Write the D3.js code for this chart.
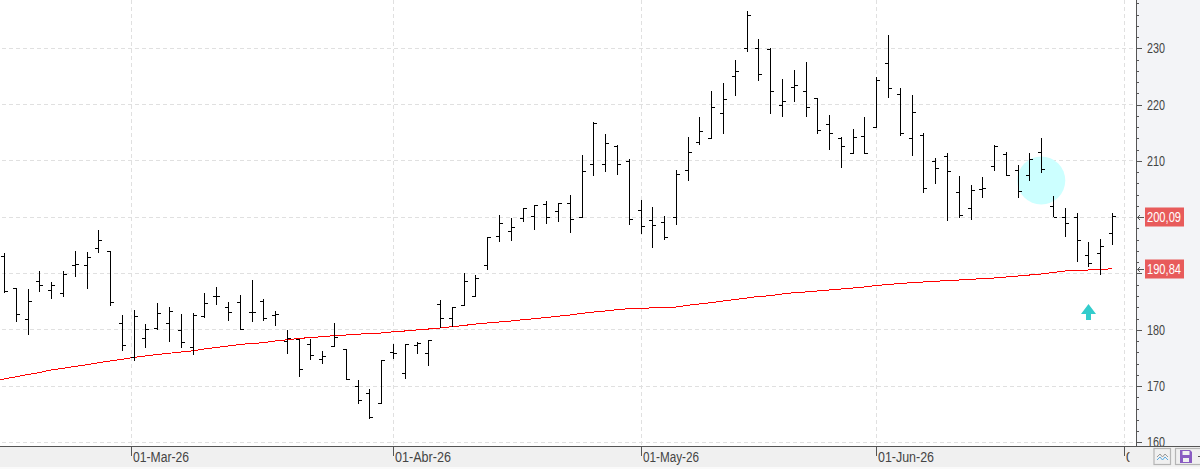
<!DOCTYPE html>
<html>
<head>
<meta charset="utf-8">
<script src="https://cdn.jsdelivr.net/npm/d3@7/dist/d3.min.js"></script>
<style>
  html, body { margin: 0; padding: 0; background: #fff; overflow: hidden; }
  svg { display: block; }
  text { font-family: "Liberation Sans", Roboto, sans-serif; font-size: 14px; }
</style>
</head>
<body>
<svg id="chart" width="1200" height="469"></svg>
<script>
// Daily OHLC prices, one entry per session
const opens = [193.05,187.37,181.86,188.61,187.01,186.48,191.45,191.45,194.47,193.99,181.15,175.10,178.48,180.26,181.15,179.90,176.88,182.27,185.94,183.99,184.88,183.03,185.06,182.62,177.95,178.30,177.41,174.75,176.99,176.45,169.95,168.71,166.93,175.99,172.26,177.24,175.74,184.52,182.03,184.35,185.87,191.45,196.61,197.50,199.81,200.16,202.29,201.05,202.47,199.91,209.40,209.40,212.65,209.94,201.23,199.45,199.09,199.98,208.34,213.31,214.02,218.47,225.04,230.02,230.02,229.89,219.89,223.09,222.38,221.01,216.51,214.02,211.36,214.38,215.91,227.35,221.84,214.02,214.56,209.94,210.82,204.43,201.58,204.96,209.05,211.18,208.34,207.45,211.53,201.94,199.98,199.98,193.23,193.59,197.14];
const highs = [193.59,187.37,187.19,190.44,188.43,190.44,193.99,193.76,197.73,194.05,182.62,183.51,181.02,184.75,184.04,182.80,182.92,186.53,187.54,184.88,186.12,188.84,185.41,183.28,179.90,178.36,178.30,176.22,181.20,176.53,171.02,169.42,174.57,177.41,177.41,177.77,178.18,185.23,183.99,190.03,189.68,196.43,200.34,199.81,201.69,202.12,202.83,202.47,203.89,211.00,216.87,214.73,212.78,210.29,203.00,201.76,200.16,208.34,214.20,217.75,222.43,223.80,227.88,236.59,231.62,230.02,224.51,226.11,227.53,221.13,218.11,214.20,215.62,217.75,224.86,232.33,222.91,221.66,214.91,210.47,211.36,207.27,205.67,207.09,212.78,211.53,209.22,211.36,214.02,203.72,201.58,200.69,195.54,196.07,200.69];
const lows = [186.48,181.43,179.07,186.76,185.46,185.82,189.37,187.24,193.64,184.22,176.22,174.45,176.76,179.90,177.82,176.76,175.51,182.03,184.45,181.55,179.96,181.38,181.61,180.67,175.69,171.60,174.62,173.91,176.88,171.12,166.81,164.14,166.86,174.75,171.25,175.74,173.61,180.26,180.54,184.35,185.77,190.67,195.65,195.83,199.20,197.78,198.85,199.20,197.25,199.81,207.38,208.09,207.55,198.67,197.07,194.58,196.00,198.67,206.49,212.92,214.02,214.79,221.59,229.41,224.26,218.39,217.86,220.53,217.86,214.84,212.00,208.80,211.29,211.29,215.80,221.24,214.48,210.93,204.35,205.95,199.38,199.91,199.56,203.47,208.26,207.27,203.47,206.49,207.80,199.98,196.54,192.09,191.21,189.78,195.11];
const closes = [186.83,182.75,185.06,187.90,187.90,189.85,191.63,192.88,195.90,184.88,177.24,182.39,180.08,182.92,183.28,177.77,182.57,184.70,185.94,183.10,180.08,183.03,181.96,182.75,178.41,172.97,175.46,175.28,178.66,171.19,167.46,164.44,174.50,175.82,177.34,177.59,178.12,182.03,183.87,188.61,189.14,196.43,198.92,198.21,201.58,202.12,199.98,202.47,199.63,208.16,216.69,213.13,209.40,199.63,198.38,198.56,196.43,207.62,211.53,215.27,219.53,220.95,225.93,235.88,225.40,222.38,220.60,223.44,219.53,215.44,214.91,212.60,214.20,211.36,224.33,222.91,214.91,218.64,205.14,208.69,208.16,200.27,204.78,205.14,212.60,207.45,204.60,210.29,208.51,199.98,198.92,195.90,191.81,194.83,200.09];

// Long moving average, starting one session before the first bar
const movingAverage = [170.89,171.25,171.64,172.03,172.40,172.85,173.15,173.47,173.77,174.13,174.45,174.75,175.07,175.34,175.60,175.82,176.05,176.26,176.58,176.85,177.11,177.38,177.56,177.70,178.00,178.21,178.45,178.62,178.77,178.96,179.07,179.21,179.32,179.42,179.64,179.78,179.96,180.13,180.31,180.54,180.76,181.02,181.20,181.38,181.55,181.79,181.96,182.18,182.41,182.62,182.90,183.15,183.33,183.56,183.74,183.74,183.92,183.99,184.04,184.35,184.58,184.81,185.11,185.38,185.64,185.91,186.05,186.35,186.58,186.71,186.89,187.06,187.24,187.42,187.60,187.86,188.04,188.22,188.36,188.49,188.61,188.75,188.84,188.93,189.11,189.20,189.37,189.55,189.73,189.91,190.17,190.44,190.53,190.62,190.71,190.84];

// Month boundaries on the session index, with their axis labels
const monthPositions = [10.75, 33, 54, 74, 95];
const monthLabels = ["01-Mar-26", "01-Abr-26", "01-May-26", "01-Jun-26", "01-Jul-26"];

const gridPrices = [160, 170, 180, 190, 200, 210, 220, 230];
// The flags cover the round prices nearest to them, so those go unlabelled
const labelledPrices = [160, 170, 180, 210, 220, 230];
const minorPriceTicks = d3.range(160, 240, 2).filter(v => v % 10 !== 0);

// Last-value flags on the price axis
const flagValues = [closes[closes.length - 1], movingAverage[movingAverage.length - 1]];

// Chart annotations: highlight circle and up arrow, as [session, price]
const highlight = [88, 206.52];
const upArrow = [92, 184.58];

const width = 1200, height = 469, plotRight = 1136, plotBottom = 446;
const x = d3.scaleLinear().domain([0, 94]).range([4, 1112]);
const y = d3.scaleLinear().domain([160, 230]).range([442.3, 48.4]);
const px = i => Math.round(x(i)) + 0.5;
const py = v => Math.round(y(v) - 0.5) + 0.5;

const svg = d3.select("#chart");
const defs = svg.append("defs");
defs.append("clipPath").attr("id", "lastLabel")
  .append("rect").attr("x", 0).attr("y", 0).attr("width", 5).attr("height", 23);

// Panels
svg.append("rect").attr("width", width).attr("height", height).attr("fill", "#fff");
svg.append("rect").attr("x", plotRight).attr("width", width - plotRight).attr("height", plotBottom).attr("fill", "#f3f4f7");
svg.append("rect").attr("y", plotBottom).attr("width", width).attr("height", 21).attr("fill", "#f0f0f0");
svg.append("rect").attr("y", 467).attr("width", width).attr("height", 2).attr("fill", "#fafafa");

// Dashed grid
const grid = svg.append("g").attr("stroke", "#e0e0e0").attr("stroke-dasharray", "4 3")
  .attr("shape-rendering", "crispEdges");
grid.selectAll("line.h").data(gridPrices).join("line").attr("class", "h")
  .attr("x1", 2).attr("x2", plotRight).attr("y1", py).attr("y2", py);
grid.selectAll("line.v").data(monthPositions).join("line").attr("class", "v")
  .attr("x1", px).attr("x2", px).attr("y1", 0).attr("y2", plotBottom);

// Highlight circle sits behind the bars
svg.append("circle").attr("cx", x(highlight[0])).attr("cy", y(highlight[1]))
  .attr("r", 24).attr("fill", "#ccffff");

// Moving average
const maLine = d3.line().x((d, i) => x(i - 1)).y(d => y(d));
svg.append("path").attr("d", maLine(movingAverage)).attr("fill", "none")
  .attr("stroke", "#ff0000").attr("stroke-width", 1).attr("shape-rendering", "crispEdges");

// OHLC bars
const bars = svg.append("g").attr("stroke", "#000").attr("shape-rendering", "crispEdges");
const sessions = d3.range(opens.length);
bars.selectAll("line.stem").data(sessions).join("line").attr("class", "stem")
  .attr("x1", px).attr("x2", px)
  .attr("y1", i => Math.round(y(highs[i]))).attr("y2", i => Math.round(y(lows[i])));
bars.selectAll("line.open").data(sessions).join("line").attr("class", "open")
  .attr("x1", i => px(i) - 3.5).attr("x2", px)
  .attr("y1", i => py(opens[i])).attr("y2", i => py(opens[i]));
bars.selectAll("line.close").data(sessions).join("line").attr("class", "close")
  .attr("x1", px).attr("x2", i => px(i) + 3.5)
  .attr("y1", i => py(closes[i])).attr("y2", i => py(closes[i]));

// Up arrow
const ax = px(upArrow[0]), ay = y(upArrow[1]);
svg.append("path").attr("fill", "#33cccc")
  .attr("d", `M${ax},${ay}L${ax + 7.5},${ay + 10}H${ax + 2.5}V${ay + 16}H${ax - 2.5}V${ay + 10}H${ax - 7.5}Z`);

// Price axis
const minorAxis = d3.axisRight(y).tickValues(minorPriceTicks).tickSize(3).tickFormat("");
const majorAxis = d3.axisRight(y).tickValues(gridPrices).tickSize(6).tickPadding(5)
  .tickFormat(v => labelledPrices.includes(v) ? d3.format("d")(v) : "");
const gMinor = svg.append("g").attr("transform", `translate(${plotRight},0)`).call(minorAxis);
const gMajor = svg.append("g").attr("transform", `translate(${plotRight},0)`).call(majorAxis);
[gMinor, gMajor].forEach(g => {
  g.select(".domain").remove();
  g.selectAll("line").attr("stroke", "#555").attr("shape-rendering", "crispEdges");
});
gMinor.selectAll("text").remove();
gMajor.selectAll("text").filter(v => !labelledPrices.includes(v)).remove();
gMajor.selectAll("text").attr("fill", "#444").style("font-size", "14px")
  .attr("textLength", 18).attr("lengthAdjust", "spacingAndGlyphs");
svg.append("line").attr("x1", plotRight + 0.5).attr("x2", plotRight + 0.5).attr("y1", 0).attr("y2", plotBottom)
  .attr("stroke", "#555").attr("shape-rendering", "crispEdges");

// Session axis
const timeAxis = d3.axisBottom(x).tickValues(monthPositions).tickSize(10).tickFormat((d, i) => monthLabels[i]);
const gTime = svg.append("g").attr("transform", `translate(0,${plotBottom})`).call(timeAxis);
gTime.select(".domain").remove();
gTime.selectAll(".tick").attr("transform", d => `translate(${px(d)},0)`);
gTime.selectAll("line").attr("stroke", "#555").attr("shape-rendering", "crispEdges");
gTime.selectAll("text").attr("fill", "#444").attr("text-anchor", "start").attr("x", 1.5).attr("y", 6)
  .attr("dy", "0.71em").style("font-size", "14px")
  .attr("textLength", 56).attr("lengthAdjust", "spacingAndGlyphs");
gTime.selectAll(".tick").filter((d, i) => i === monthPositions.length - 1).select("text")
  .attr("clip-path", "url(#lastLabel)");
svg.append("line").attr("x1", 0).attr("x2", width).attr("y1", plotBottom + 0.5).attr("y2", plotBottom + 0.5)
  .attr("stroke", "#555").attr("shape-rendering", "crispEdges");

// Value flags with small pointers
const flags = svg.append("g").selectAll("g").data(flagValues).join("g")
  .attr("transform", d => `translate(0,${Math.round(y(d))})`);
flags.append("rect").attr("x", 1145).attr("y", -9.5).attr("width", 39).attr("height", 19).attr("fill", "#e85b5b");
flags.append("text").attr("x", 1147).attr("y", 0).attr("dy", "0.36em").attr("fill", "#fff")
  .attr("textLength", 34).attr("lengthAdjust", "spacingAndGlyphs")
  .text(d => d3.format(".2f")(d).replace(".", ","));
flags.append("path").attr("d", "M1144,0.5H1137.5M1140,-2L1137.5,0.5L1140,3").attr("fill", "none").attr("stroke", "#555");

// Toolbar buttons in the lower right corner
const tools = svg.append("g");
tools.append("rect").attr("x", 1154).attr("y", 448.5).attr("width", 16.5).attr("height", 16)
  .attr("fill", "#f0f0f0").attr("stroke", "#b5b5b5").attr("stroke-width", 1.2);
tools.append("path").attr("d", "M1157,457L1160,454L1162.5,457L1165,454L1168,457").attr("fill", "none").attr("stroke", "#999");
tools.append("path").attr("d", "M1157,460L1160,457L1162.5,460L1165,457L1168,460").attr("fill", "none").attr("stroke", "#5aa9e0");
tools.append("rect").attr("x", 1175.5).attr("y", 448.5).attr("width", 30).attr("height", 16)
  .attr("fill", "#f0f0f0").attr("stroke", "#b5b5b5").attr("stroke-width", 1.2);
tools.append("path").attr("d", "M1180,450H1190L1192,452V463H1180Z").attr("fill", "#8a5cc2");
tools.append("rect").attr("x", 1182.5).attr("y", 451).attr("width", 7).attr("height", 4).attr("fill", "#f0f0f0");
tools.append("rect").attr("x", 1183).attr("y", 458).attr("width", 6).attr("height", 4).attr("fill", "#f0f0f0");
tools.append("rect").attr("x", 1198).attr("y", 456).attr("width", 2).attr("height", 1).attr("fill", "#555");
</script>
</body>
</html>
